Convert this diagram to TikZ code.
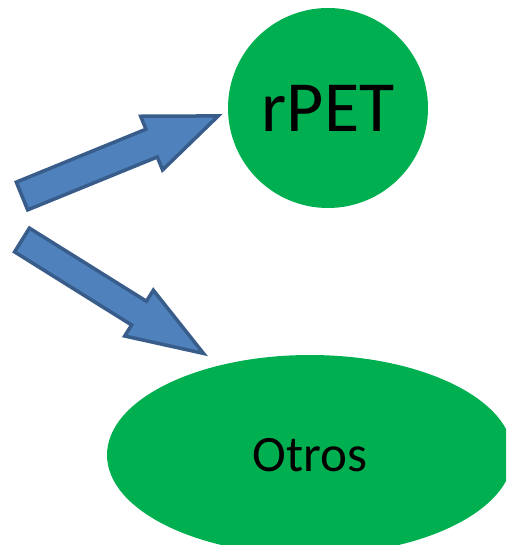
\documentclass[tikz,border=0pt]{standalone}
\usepackage{fontspec}
\setmainfont{Carlito}
\usepackage{tikz}
\usetikzlibrary{shapes.geometric}

\definecolor{pgreen}{HTML}{00B050}
\definecolor{afill}{HTML}{4F81BD}
\definecolor{aline}{HTML}{385D8A}

\tikzset{
  blockarrow/.style={fill=afill,draw=aline,line width=3.5pt,line join=miter},
}

\begin{document}
\begin{tikzpicture}[x=1pt,y=1pt]
\clip (0,0) rectangle (506,-545);
\node[shape=circle,fill=pgreen,minimum size=200pt,inner sep=0pt] (R) at (328,-108) {\fontsize{72}{80}\selectfont rPET};
\node[shape=ellipse,fill=pgreen,minimum width=406pt,minimum height=200pt,inner sep=0pt] (O) at (310,-455) {\fontsize{51}{60}\selectfont Otros};
% arrow up to rPET
\begin{scope}[shift={(22,-196)},rotate=22.2]
\path[blockarrow] (0,15) -- (140,15) -- (140,29) -- (212,0) -- (140,-29) -- (140,-15) -- (0,-15) -- cycle;
\end{scope}
% arrow down to Otros
\begin{scope}[shift={(22,-240)},rotate=-32]
\path[blockarrow] (0,14) -- (138,14) -- (138,27) -- (214,0) -- (138,-27) -- (138,-14) -- (0,-14) -- cycle;
\end{scope}
\end{tikzpicture}
\end{document}
